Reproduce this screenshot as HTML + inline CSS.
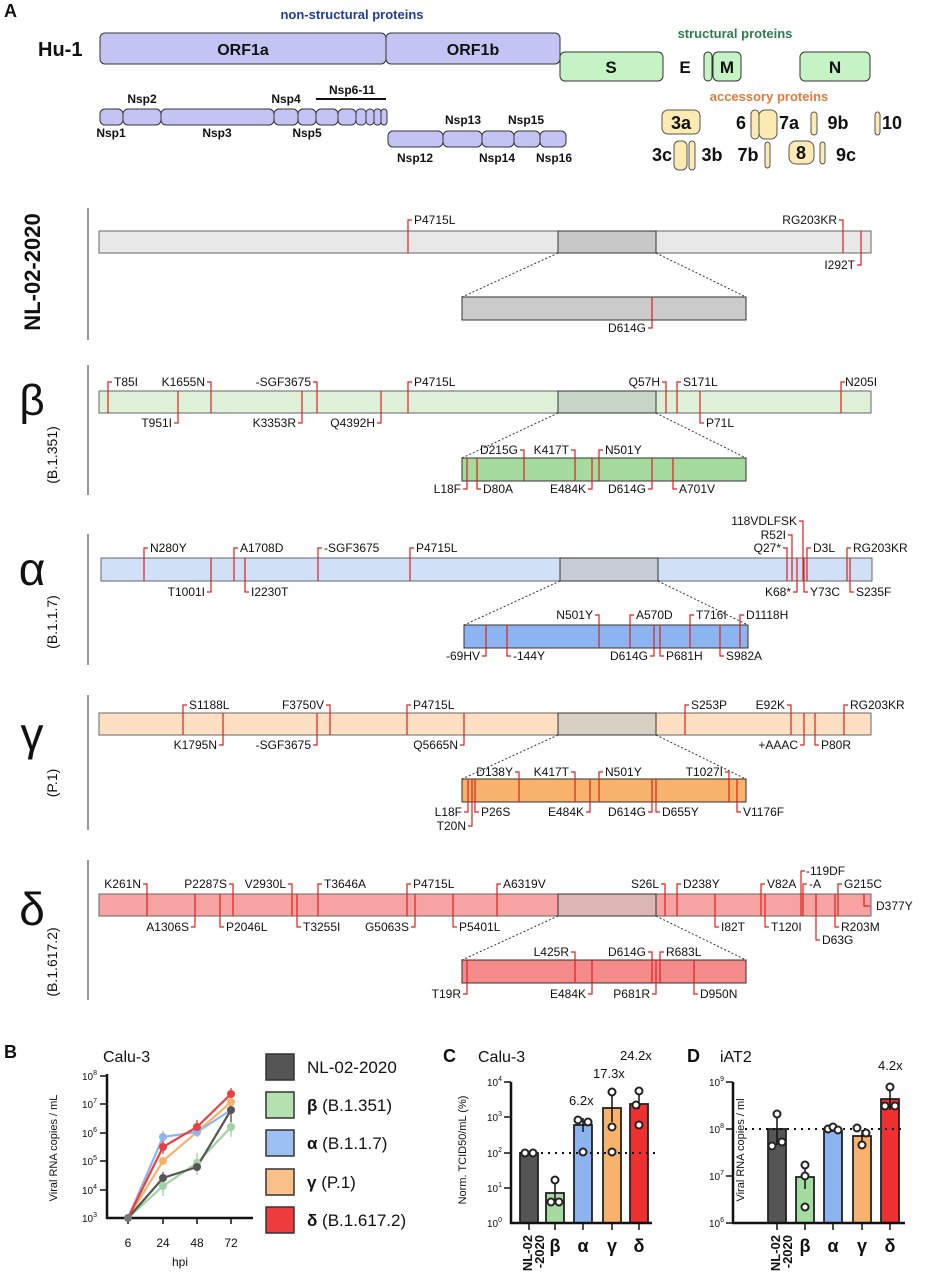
<!DOCTYPE html>
<html><head><meta charset="utf-8"><style>
body{margin:0;background:#fff}
svg{display:block}
text{font-family:"Liberation Sans",Arial,sans-serif;fill:#111}
.n{font-family:"Liberation Sans Narrow","Liberation Sans",sans-serif;font-weight:bold}
.t{font-size:12px}
.m{stroke:#e0201b;stroke-width:1.2;fill:none}
.d{stroke:#333;stroke-width:1;stroke-dasharray:2,2;fill:none}
.p{fill:#fff;stroke:#222;stroke-width:2}
</style></head><body>
<svg width="928" height="1280" viewBox="0 0 928 1280" xmlns="http://www.w3.org/2000/svg">
<!-- Panel A top -->
<text x="4" y="17" font-size="18" font-weight="bold">A</text>
<text x="352" y="19" font-size="13" font-weight="bold" text-anchor="middle" style="fill:#1f3d99">non-structural proteins</text>
<text x="38" y="56" class="n" font-size="20">Hu-1</text>
<rect x="100" y="33" width="286" height="31" rx="5" fill="#c4c4f4" stroke="#333"/>
<rect x="386" y="33" width="174" height="31" rx="5" fill="#c4c4f4" stroke="#333"/>
<text x="243" y="55" class="n" font-size="16" text-anchor="middle">ORF1a</text>
<text x="473" y="55" class="n" font-size="16" text-anchor="middle">ORF1b</text>
<text x="735" y="38" font-size="13" font-weight="bold" text-anchor="middle" style="fill:#2e7d4f">structural proteins</text>
<rect x="560" y="52" width="103" height="29" rx="5" fill="#c6f3c6" stroke="#333"/>
<text x="611" y="73" class="n" font-size="17" text-anchor="middle">S</text>
<text x="685" y="73" class="n" font-size="17" text-anchor="middle">E</text>
<rect x="704" y="52" width="8" height="29" rx="4" fill="#c6f3c6" stroke="#333"/>
<rect x="713" y="52" width="28" height="29" rx="5" fill="#c6f3c6" stroke="#333"/>
<text x="727" y="73" class="n" font-size="17" text-anchor="middle">M</text>
<rect x="800" y="52" width="70" height="29" rx="5" fill="#c6f3c6" stroke="#333"/>
<text x="835" y="73" class="n" font-size="17" text-anchor="middle">N</text>
<text x="769" y="101" font-size="13" font-weight="bold" text-anchor="middle" style="fill:#e07b39">accessory proteins</text>
<g fill="#c4c4f4" stroke="#333">
<rect x="100" y="109" width="23" height="16" rx="5"/><rect x="123" y="109" width="38" height="16" rx="5"/><rect x="161" y="109" width="113" height="16" rx="5"/><rect x="274" y="109" width="24" height="16" rx="5"/><rect x="298" y="109" width="18" height="16" rx="5"/><rect x="316" y="109" width="22" height="16" rx="5"/><rect x="338" y="109" width="18" height="16" rx="5"/><rect x="356" y="109" width="10" height="16" rx="4"/><rect x="366" y="109" width="8" height="16" rx="4"/><rect x="374" y="109" width="7" height="16" rx="3"/><rect x="381" y="109" width="6" height="16" rx="3"/>
<rect x="388" y="131" width="55" height="16" rx="5"/><rect x="443" y="131" width="39" height="16" rx="5"/><rect x="482" y="131" width="32" height="16" rx="5"/><rect x="514" y="131" width="26" height="16" rx="5"/><rect x="540" y="131" width="26" height="16" rx="5"/>
</g>
<line x1="316" y1="99" x2="386" y2="99" stroke="#111" stroke-width="2"/>
<g class="n" font-size="12" text-anchor="middle">
<text x="142" y="103">Nsp2</text><text x="286" y="103">Nsp4</text><text x="352" y="94">Nsp6-11</text>
<text x="111" y="137">Nsp1</text><text x="217" y="137">Nsp3</text><text x="307" y="137">Nsp5</text>
<text x="463" y="124">Nsp13</text><text x="526" y="124">Nsp15</text>
<text x="415" y="162">Nsp12</text><text x="497" y="162">Nsp14</text><text x="554" y="162">Nsp16</text>
</g>
<g fill="#fbeab2" stroke="#555">
<rect x="662" y="110" width="38" height="24" rx="6"/>
<rect x="751" y="110" width="8" height="29" rx="4"/><rect x="759" y="110" width="18" height="29" rx="6"/>
<rect x="811" y="112" width="6" height="23" rx="3"/><rect x="875" y="112" width="5" height="23" rx="3"/>
<rect x="674" y="141" width="13" height="29" rx="5"/><rect x="689" y="141" width="6" height="29" rx="3"/>
<rect x="765" y="142" width="5" height="26" rx="3"/><rect x="789" y="141" width="25" height="23" rx="7"/><rect x="820" y="142" width="5" height="22" rx="3"/>
</g>
<g class="n" font-size="18" text-anchor="middle">
<text x="681" y="129">3a</text><text x="741" y="129">6</text><text x="789" y="129">7a</text><text x="838" y="129">9b</text><text x="892" y="129">10</text>
<text x="662" y="161">3c</text><text x="712" y="161">3b</text><text x="748" y="161">7b</text><text x="801" y="159">8</text><text x="846" y="161">9c</text>
</g>

<!-- left labels -->
<g stroke="#555" stroke-width="1.2">
<line x1="88" y1="208" x2="88" y2="340"/><line x1="88" y1="365" x2="88" y2="495"/><line x1="88" y1="534" x2="88" y2="665"/><line x1="88" y1="695" x2="88" y2="830"/><line x1="88" y1="860" x2="88" y2="1000"/>
</g>
<text transform="translate(40,272) rotate(-90)" class="n" font-size="22" text-anchor="middle">NL-02-2020</text>
<text x="32" y="415" font-size="44" text-anchor="middle">β</text>
<text transform="translate(57,455) rotate(-90)" font-size="14" text-anchor="middle">(B.1.351)</text>
<text x="32" y="585" font-size="46" text-anchor="middle">α</text>
<text transform="translate(57,622) rotate(-90)" font-size="14" text-anchor="middle">(B.1.1.7)</text>
<text x="32" y="750" font-size="46" text-anchor="middle">γ</text>
<text transform="translate(57,783) rotate(-90)" font-size="14" text-anchor="middle">(P.1)</text>
<text x="32" y="925" font-size="46" text-anchor="middle">δ</text>
<text transform="translate(57,962) rotate(-90)" font-size="14" text-anchor="middle">(B.1.617.2)</text>

<!-- NL -->
<rect x="99" y="231" width="772" height="22" fill="#e8e8e8" stroke="#666"/>
<rect x="558" y="231" width="98" height="22" fill="#c8c8c8" stroke="#333"/>
<path class="d" d="M558 253L462 297M656 253L746 297"/>
<rect x="462" y="297" width="284" height="23" fill="#cbcbcb" stroke="#333"/>
<path class="m" d="M408 253V220h4M843 253V220h-4M861 231V265h-4M652 297V328h-4"/>
<g class="t"><text x="414" y="224">P4715L</text><text x="837" y="224" text-anchor="end">RG203KR</text><text x="855" y="269" text-anchor="end">I292T</text><text x="646" y="332" text-anchor="end">D614G</text></g>

<!-- beta -->
<rect x="99" y="391" width="772" height="22" fill="#dff0d8" stroke="#666"/>
<rect x="558" y="391" width="98" height="22" fill="#c8d6c8" stroke="#333"/>
<path class="d" d="M558 413L462 458M656 413L746 458"/>
<rect x="462" y="458" width="284" height="23" fill="#a6dba0" stroke="#333"/>
<path class="m" d="M108 413V382h4M211 413V382h-4M178 391V423h-4M317 413V382h-4M302 391V423h-4M381 391V423h-4M408 413V382h4M666 413V382h-4M677 413V382h4M700 391V423h4M841 413V382h4"/>
<g class="t"><text x="114" y="386">T85I</text><text x="205" y="386" text-anchor="end">K1655N</text><text x="172" y="427" text-anchor="end">T951I</text><text x="311" y="386" text-anchor="end">-SGF3675</text><text x="296" y="427" text-anchor="end">K3353R</text><text x="375" y="427" text-anchor="end">Q4392H</text><text x="414" y="386">P4715L</text><text x="660" y="386" text-anchor="end">Q57H</text><text x="683" y="386">S171L</text><text x="706" y="427">P71L</text><text x="845" y="386">N205I</text></g>
<path class="m" d="M467 458V489h-4M477 458V489h4M524 481V450h-4M575 481V450h-4M592 458V489h-4M599 481V450h4M652 458V489h-4M673 458V489h4"/>
<g class="t"><text x="461" y="493" text-anchor="end">L18F</text><text x="483" y="493">D80A</text><text x="518" y="454" text-anchor="end">D215G</text><text x="569" y="454" text-anchor="end">K417T</text><text x="586" y="493" text-anchor="end">E484K</text><text x="605" y="454">N501Y</text><text x="646" y="493" text-anchor="end">D614G</text><text x="679" y="493">A701V</text></g>

<!-- alpha -->
<rect x="101" y="558" width="771" height="23" fill="#cfe0f7" stroke="#666"/>
<rect x="560" y="558" width="98" height="23" fill="#c8ccd6" stroke="#333"/>
<path class="d" d="M560 581L464 625M658 581L748 625"/>
<rect x="464" y="625" width="284" height="23" fill="#8cb4f0" stroke="#333"/>
<path class="m" d="M144 581V548h4M211 558V592h-4M234 581V548h4M245 558V592h4M318 581V548h4M410 581V548h4M803 581V521h-4M792 581V535h-4M787 581V548h-4M807 581V548h4M847 581V548h4M797 558V592h-4M804 558V592h4M850 558V592h4"/>
<g class="t"><text x="150" y="552">N280Y</text><text x="205" y="596" text-anchor="end">T1001I</text><text x="240" y="552">A1708D</text><text x="251" y="596">I2230T</text><text x="324" y="552">-SGF3675</text><text x="416" y="552">P4715L</text><text x="797" y="525" text-anchor="end">118VDLFSK</text><text x="786" y="539" text-anchor="end">R52I</text><text x="781" y="552" text-anchor="end">Q27*</text><text x="813" y="552">D3L</text><text x="853" y="552">RG203KR</text><text x="791" y="596" text-anchor="end">K68*</text><text x="810" y="596">Y73C</text><text x="856" y="596">S235F</text></g>
<path class="m" d="M486 625V656h-4M507 625V656h4M599 648V615h-4M630 648V615h4M654 625V656h-4M660 625V656h4M690 648V615h4M720 625V656h4M740 648V615h4"/>
<g class="t"><text x="480" y="660" text-anchor="end">-69HV</text><text x="513" y="660">-144Y</text><text x="593" y="619" text-anchor="end">N501Y</text><text x="636" y="619">A570D</text><text x="648" y="660" text-anchor="end">D614G</text><text x="666" y="660">P681H</text><text x="696" y="619">T716I</text><text x="726" y="660">S982A</text><text x="746" y="619">D1118H</text></g>

<!-- gamma -->
<rect x="99" y="713" width="772" height="22" fill="#fde0c4" stroke="#666"/>
<rect x="558" y="713" width="98" height="22" fill="#d9d0c4" stroke="#333"/>
<path class="d" d="M558 735L462 779M656 735L746 779"/>
<rect x="462" y="779" width="284" height="23" fill="#f7b26b" stroke="#333"/>
<path class="m" d="M183 735V705h4M223 713V745h-4M330 735V705h-4M317 713V745h-4M407 735V705h4M464 713V745h-4M685 735V705h4M791 735V705h-4M804 713V745h-4M815 713V745h4M844 735V705h4"/>
<g class="t"><text x="189" y="709">S1188L</text><text x="217" y="749" text-anchor="end">K1795N</text><text x="324" y="709" text-anchor="end">F3750V</text><text x="311" y="749" text-anchor="end">-SGF3675</text><text x="413" y="709">P4715L</text><text x="458" y="749" text-anchor="end">Q5665N</text><text x="691" y="709">S253P</text><text x="785" y="709" text-anchor="end">E92K</text><text x="798" y="749" text-anchor="end">+AAAC</text><text x="821" y="749">P80R</text><text x="850" y="709">RG203KR</text></g>
<path class="m" d="M468 779V812h-4M472 779V826h-4M475 779V812h4M519 802V772h-4M575 802V772h-4M590 779V812h-4M599 802V772h4M652 779V812h-4M656 779V812h4M729 802V772h-4M737 779V812h4"/>
<g class="t"><text x="462" y="816" text-anchor="end">L18F</text><text x="466" y="830" text-anchor="end">T20N</text><text x="481" y="816">P26S</text><text x="513" y="776" text-anchor="end">D138Y</text><text x="569" y="776" text-anchor="end">K417T</text><text x="584" y="816" text-anchor="end">E484K</text><text x="605" y="776">N501Y</text><text x="646" y="816" text-anchor="end">D614G</text><text x="662" y="816">D655Y</text><text x="723" y="776" text-anchor="end">T1027I</text><text x="743" y="816">V1176F</text></g>

<!-- delta -->
<rect x="99" y="894" width="772" height="22" fill="#f7a3a3" stroke="#666"/>
<rect x="558" y="894" width="98" height="22" fill="#ddb6b6" stroke="#333"/>
<path class="d" d="M558 916L462 960M656 916L746 960"/>
<rect x="462" y="960" width="284" height="23" fill="#f48a8a" stroke="#333"/>
<path class="m" d="M147 916V884h-4M195 894V927h-4M233 916V884h-4M220 894V927h4M292 916V884h-4M297 894V927h4M318 916V884h4M407 916V884h4M415 894V927h-4M453 894V927h4M497 916V884h4M665 916V884h-4M677 916V884h4M715 894V927h4M761 916V884h4M765 894V927h4M801 916V871h4M803 916V884h4M816 894V940h4M838 916V884h4M835 894V927h4M864 894V906h6"/>
<g class="t"><text x="141" y="888" text-anchor="end">K261N</text><text x="189" y="931" text-anchor="end">A1306S</text><text x="227" y="888" text-anchor="end">P2287S</text><text x="226" y="931">P2046L</text><text x="286" y="888" text-anchor="end">V2930L</text><text x="303" y="931">T3255I</text><text x="324" y="888">T3646A</text><text x="413" y="888">P4715L</text><text x="409" y="931" text-anchor="end">G5063S</text><text x="459" y="931">P5401L</text><text x="503" y="888">A6319V</text><text x="659" y="888" text-anchor="end">S26L</text><text x="683" y="888">D238Y</text><text x="721" y="931">I82T</text><text x="767" y="888">V82A</text><text x="771" y="931">T120I</text><text x="806" y="875">-119DF</text><text x="809" y="888">-A</text><text x="822" y="944">D63G</text><text x="844" y="888">G215C</text><text x="841" y="931">R203M</text><text x="876" y="910">D377Y</text></g>
<path class="m" d="M467 960V994h-4M575 983V952h-4M592 960V994h-4M652 983V952h-4M656 960V994h-4M660 983V952h4M694 960V994h4"/>
<g class="t"><text x="461" y="998" text-anchor="end">T19R</text><text x="569" y="956" text-anchor="end">L425R</text><text x="586" y="998" text-anchor="end">E484K</text><text x="646" y="956" text-anchor="end">D614G</text><text x="650" y="998" text-anchor="end">P681R</text><text x="666" y="956">R683L</text><text x="700" y="998">D950N</text></g>

<!-- Panel B -->
<text x="4" y="1058" font-size="18" font-weight="bold">B</text>
<text x="103" y="1062" font-size="16">Calu-3</text>
<text transform="translate(57,1148) rotate(-90)" font-size="11" text-anchor="middle">Viral RNA copies / mL</text>
<g stroke="#111" stroke-width="2.5"><line x1="107" y1="1074" x2="107" y2="1219"/><line x1="106" y1="1218" x2="253" y2="1218"/></g>
<g stroke="#111" stroke-width="1.5"><path d="M100 1076h7M100 1104h7M100 1133h7M100 1161h7M100 1190h7M128 1218v6M163 1218v6M197 1218v6M231 1218v6"/></g>
<g font-size="10" text-anchor="end"><text x="97" y="1080">10<tspan font-size="7" dy="-5">8</tspan></text><text x="97" y="1108">10<tspan font-size="7" dy="-5">7</tspan></text><text x="97" y="1137">10<tspan font-size="7" dy="-5">6</tspan></text><text x="97" y="1165">10<tspan font-size="7" dy="-5">5</tspan></text><text x="97" y="1194">10<tspan font-size="7" dy="-5">4</tspan></text><text x="97" y="1222">10<tspan font-size="7" dy="-5">3</tspan></text></g>
<g font-size="12" text-anchor="middle"><text x="128" y="1247">6</text><text x="163" y="1247">24</text><text x="197" y="1247">48</text><text x="231" y="1247">72</text><text x="180" y="1266">hpi</text></g>
<g fill="none" stroke-width="2.2">
<polyline stroke="#9fd39f" points="128,1218 163,1186 197,1163 231,1127"/>
<polyline stroke="#f7b26b" points="128,1218 163,1161 197,1132 231,1102"/>
<polyline stroke="#8fb3ee" points="128,1218 163,1137 197,1132 231,1110"/>
<polyline stroke="#555" points="128,1218 163,1178 197,1167 231,1110"/>
<polyline stroke="#e84040" points="128,1218 163,1147 197,1127 231,1094"/>
</g>
<g stroke-width="1.3" fill="none">
<path stroke="#9fd39f" d="M163 1176v20M197 1153v22M231 1115v22"/>
<path stroke="#8fb3ee" d="M163 1131v12M197 1127v10"/>
<path stroke="#555" d="M163 1172v12M231 1100v22"/>
<path stroke="#e84040" d="M163 1140v14M197 1120v12M231 1088v10"/>
</g>
<g><circle cx="128" cy="1218" r="4" fill="#777"/><circle cx="163" cy="1186" r="4" fill="#9fd39f"/><circle cx="197" cy="1163" r="4" fill="#9fd39f"/><circle cx="231" cy="1127" r="4" fill="#9fd39f"/><circle cx="163" cy="1161" r="4" fill="#f7b26b"/><circle cx="197" cy="1132" r="4" fill="#f7b26b"/><circle cx="231" cy="1102" r="4" fill="#f7b26b"/><circle cx="163" cy="1137" r="4" fill="#8fb3ee"/><circle cx="197" cy="1132" r="4" fill="#8fb3ee"/><circle cx="163" cy="1178" r="4" fill="#555"/><circle cx="197" cy="1167" r="4" fill="#555"/><circle cx="231" cy="1110" r="4" fill="#555"/><circle cx="163" cy="1147" r="4" fill="#e84040"/><circle cx="197" cy="1127" r="4" fill="#e84040"/><circle cx="231" cy="1094" r="4" fill="#e84040"/></g>
<g stroke="#333" stroke-width="1.5">
<rect x="266" y="1054" width="28" height="26" fill="#555"/><rect x="266" y="1092" width="28" height="26" fill="#b5e0b0"/><rect x="266" y="1130" width="28" height="26" fill="#9dc0f2"/><rect x="266" y="1169" width="28" height="26" fill="#f9c08a"/><rect x="266" y="1207" width="28" height="26" fill="#ee3b3b"/>
</g>
<g font-size="17"><text x="307" y="1073">NL-02-2020</text>
<text x="307" y="1111"><tspan font-weight="bold">β</tspan> (B.1.351)</text>
<text x="307" y="1149"><tspan font-weight="bold">α</tspan> (B.1.1.7)</text>
<text x="307" y="1188"><tspan font-weight="bold">γ</tspan> (P.1)</text>
<text x="307" y="1226"><tspan font-weight="bold">δ</tspan> (B.1.617.2)</text></g>

<!-- Panel C -->
<text x="443" y="1062" font-size="18" font-weight="bold">C</text>
<text x="478" y="1062" font-size="16">Calu-3</text>
<text x="620" y="1060" font-size="13">24.2x</text><text x="593" y="1078" font-size="13">17.3x</text><text x="569" y="1105" font-size="13">6.2x</text>
<text transform="translate(466,1150) rotate(-90)" font-size="11" text-anchor="middle">Norm. TCID50/mL (%)</text>
<g stroke="#222" stroke-width="1.8">
<rect x="520" y="1153" width="18" height="70" fill="#555"/>
<rect x="546" y="1193" width="18" height="30" fill="#a6dba0"/>
<rect x="574" y="1125" width="18" height="98" fill="#8cb4f0"/>
<rect x="603" y="1108" width="18" height="115" fill="#f7b26b"/>
<rect x="630" y="1104" width="18" height="119" fill="#ee3030"/>
</g>
<g stroke="#111" stroke-width="2.5"><line x1="511" y1="1082" x2="511" y2="1224"/><line x1="510" y1="1223" x2="652" y2="1223"/></g>
<g stroke="#111" stroke-width="1.5"><path d="M504 1082h7M504 1117h7M504 1153h7M504 1188h7M529 1223v7M555 1223v7M583 1223v7M612 1223v7M639 1223v7"/></g>
<path d="M520 1153H655" stroke="#111" stroke-width="2" stroke-dasharray="2,5"/>
<g stroke="#111" stroke-width="1.5"><path d="M555 1183v20M583 1118v14M612 1092v30M639 1095v14"/></g>
<g class="p"><circle cx="525" cy="1153" r="3.5"/><circle cx="533" cy="1153" r="3.5"/><circle cx="555" cy="1180" r="3.5"/><circle cx="551" cy="1202" r="3.5"/><circle cx="559" cy="1202" r="3.5"/><circle cx="578" cy="1120" r="3.5"/><circle cx="588" cy="1122" r="3.5"/><circle cx="583" cy="1152" r="3.5"/><circle cx="612" cy="1092" r="3.5"/><circle cx="612" cy="1127" r="3.5"/><circle cx="612" cy="1152" r="3.5"/><circle cx="639" cy="1091" r="3.5"/><circle cx="636" cy="1105" r="3.5"/><circle cx="639" cy="1125" r="3.5"/></g>
<g font-size="10" text-anchor="end"><text x="502" y="1086">10<tspan font-size="7" dy="-5">4</tspan></text><text x="502" y="1121">10<tspan font-size="7" dy="-5">3</tspan></text><text x="502" y="1157">10<tspan font-size="7" dy="-5">2</tspan></text><text x="502" y="1192">10<tspan font-size="7" dy="-5">1</tspan></text><text x="502" y="1227">10<tspan font-size="7" dy="-5">0</tspan></text></g>
<text transform="translate(532,1235) rotate(-90)" font-size="13" font-weight="bold" text-anchor="end">NL-02</text>
<text transform="translate(544,1235) rotate(-90)" font-size="13" font-weight="bold" text-anchor="end">-2020</text>
<g font-size="18" font-weight="bold" text-anchor="middle"><text x="555" y="1252">β</text><text x="583" y="1252">α</text><text x="612" y="1252">γ</text><text x="639" y="1252">δ</text></g>

<!-- Panel D -->
<text x="687" y="1062" font-size="18" font-weight="bold">D</text>
<text x="720" y="1062" font-size="16">iAT2</text>
<text x="878" y="1070" font-size="13">4.2x</text>
<text transform="translate(744,1150) rotate(-90)" font-size="11" text-anchor="middle">Viral RNA copies / ml</text>
<g stroke="#222" stroke-width="1.8">
<rect x="768" y="1129" width="18" height="94" fill="#555"/>
<rect x="796" y="1177" width="18" height="46" fill="#a6dba0"/>
<rect x="824" y="1131" width="18" height="92" fill="#8cb4f0"/>
<rect x="853" y="1136" width="18" height="87" fill="#f7b26b"/>
<rect x="881" y="1099" width="18" height="124" fill="#ee3030"/>
</g>
<g stroke="#111" stroke-width="2.5"><line x1="733" y1="1082" x2="733" y2="1224"/><line x1="732" y1="1223" x2="905" y2="1223"/></g>
<g stroke="#111" stroke-width="1.5"><path d="M726 1082h7M726 1129h7M726 1176h7M726 1223h7M777 1223v7M805 1223v7M833 1223v7M862 1223v7M890 1223v7"/></g>
<path d="M745 1129H905" stroke="#111" stroke-width="2" stroke-dasharray="2,5"/>
<g stroke="#111" stroke-width="1.5"><path d="M777 1115v30M805 1165v24M862 1130v12M890 1090v20"/></g>
<g class="p"><circle cx="777" cy="1114" r="3.5"/><circle cx="772" cy="1146" r="3.5"/><circle cx="782" cy="1142" r="3.5"/><circle cx="805" cy="1165" r="3.5"/><circle cx="805" cy="1176" r="3.5"/><circle cx="805" cy="1207" r="3.5"/><circle cx="828" cy="1129" r="3.5"/><circle cx="833" cy="1127" r="3.5"/><circle cx="838" cy="1130" r="3.5"/><circle cx="857" cy="1128" r="3.5"/><circle cx="866" cy="1133" r="3.5"/><circle cx="862" cy="1145" r="3.5"/><circle cx="890" cy="1087" r="3.5"/><circle cx="885" cy="1106" r="3.5"/><circle cx="895" cy="1106" r="3.5"/></g>
<g font-size="10" text-anchor="end"><text x="724" y="1086">10<tspan font-size="7" dy="-5">9</tspan></text><text x="724" y="1133">10<tspan font-size="7" dy="-5">8</tspan></text><text x="724" y="1180">10<tspan font-size="7" dy="-5">7</tspan></text><text x="724" y="1227">10<tspan font-size="7" dy="-5">6</tspan></text></g>
<text transform="translate(780,1235) rotate(-90)" font-size="13" font-weight="bold" text-anchor="end">NL-02</text>
<text transform="translate(792,1235) rotate(-90)" font-size="13" font-weight="bold" text-anchor="end">-2020</text>
<g font-size="18" font-weight="bold" text-anchor="middle"><text x="805" y="1252">β</text><text x="833" y="1252">α</text><text x="862" y="1252">γ</text><text x="890" y="1252">δ</text></g>
</svg>
</body></html>
